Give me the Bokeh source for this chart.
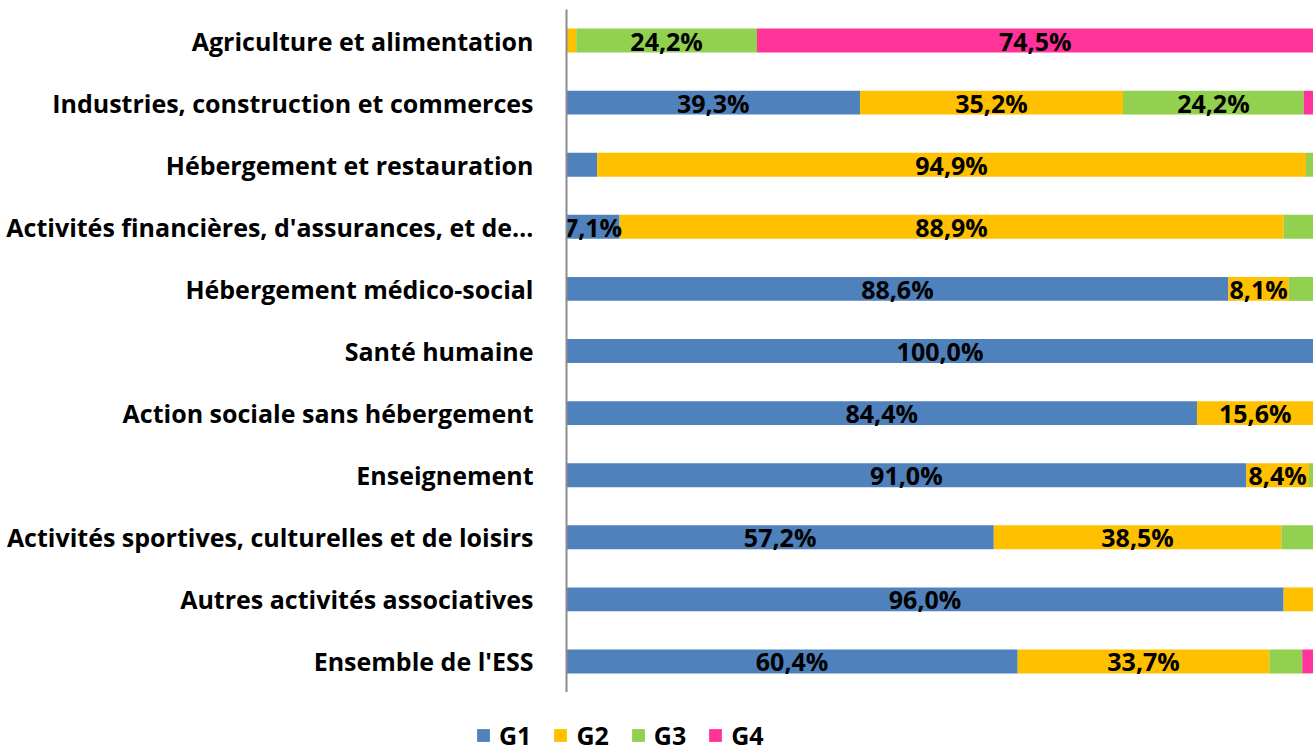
from bokeh.plotting import figure
from bokeh.models import ColumnDataSource, FactorRange, Range1d, Legend, LegendItem
from bokeh.layouts import column
from bokeh.core.properties import value
from bokeh.embed import file_html
from bokeh.resources import INLINE
import numpy as np

categories = [
    "Agriculture et alimentation",
    "Industries, construction et commerces",
    "Hébergement et restauration",
    "Activités financières, d'assurances, et de…",
    "Hébergement médico-social",
    "Santé humaine",
    "Action sociale sans hébergement",
    "Enseignement",
    "Activités sportives, culturelles et de loisirs",
    "Autres activités associatives",
    "Ensemble de l'ESS",
]
series = ["G1", "G2", "G3", "G4"]
g1 = [0.0, 39.3, 4.1, 7.1, 88.6, 100.0, 84.4, 91.0, 57.2, 96.0, 60.4]
g2 = [1.3, 35.2, 94.9, 88.9, 8.1, 0.0, 15.6, 8.4, 38.5, 4.0, 33.7]
g3 = [24.2, 24.2, 1.0, 4.0, 3.3, 0.0, 0.0, 0.6, 4.3, 0.0, 4.4]
g4 = [74.5, 1.3, 0.0, 0.0, 0.0, 0.0, 0.0, 0.0, 0.0, 0.0, 1.5]
colors = ["#4F81BD", "#FFC000", "#92D050", "#FF3399"]

FONT = "Open Sans"

source = ColumnDataSource(dict(cat=categories, G1=g1, G2=g2, G3=g3, G4=g4))

p = figure(frame_width=747, frame_height=683, output_backend="svg", toolbar_location=None,
           y_range=FactorRange(factors=list(reversed(categories)), range_padding=0),
           x_range=Range1d(0, 100), x_axis_location=None,
           min_border_left=566, min_border_right=0,
           min_border_top=9, min_border_bottom=0)

renderers = p.hbar_stack(series, y="cat", height=0.385, color=colors, line_color=None,
                         source=source)

# data labels
vals = np.array([g1, g2, g3, g4])
cum = np.cumsum(vals, axis=0)
lx, ly, lt = [], [], []
for si in range(4):
    for ci, c in enumerate(categories):
        v = vals[si, ci]
        if v >= 5:
            mid = cum[si, ci] - v / 2
            lx.append(mid)
            ly.append(c)
            lt.append(("%.1f%%" % v).replace(".", ","))
lsrc = ColumnDataSource(dict(x=lx, y=ly, t=lt))
p.text(x="x", y="y", text="t", source=lsrc, text_align="center", text_baseline="middle",
       text_font=value(FONT), text_font_style="bold", text_font_size="25px", text_color="black")

p.xgrid.visible = False
p.ygrid.visible = False
p.outline_line_color = None
yax = p.yaxis[0]
yax.major_tick_line_color = None
yax.minor_tick_line_color = None
yax.axis_line_color = "#8C8C8C"
yax.axis_line_width = 2
yax.major_label_standoff = 27
yax.major_label_text_font = FONT
yax.major_label_text_font_style = "bold"
yax.major_label_text_font_size = "25px"
yax.major_label_text_color = "black"

# legend strip below the chart
lf = figure(frame_width=1313, frame_height=55, output_backend="svg", toolbar_location=None,
            x_range=Range1d(0, 1), y_range=Range1d(0, 1),
            x_axis_location=None, y_axis_location=None,
            min_border_left=0, min_border_right=0, min_border_top=0, min_border_bottom=0)
lf.xgrid.visible = False
lf.ygrid.visible = False
lf.outline_line_color = None
swatches = []
for s, c in zip(series, colors):
    r = lf.hbar(y=0, right=s, height=0.5, color=c, line_color=None, source=source)
    r.visible = False
    swatches.append(r)

legend = Legend(items=[LegendItem(label=s, renderers=[r]) for s, r in zip(series, swatches)],
                orientation="horizontal", location=(475, -5),
                label_text_font=FONT, label_text_font_style="bold", label_text_font_size="25px",
                label_text_color="black",
                glyph_width=16, glyph_height=16, label_standoff=8, spacing=21,
                border_line_color=None, background_fill_alpha=0, padding=0, margin=0,
                inactive_fill_alpha=0, label_height=16)
lf.add_layout(legend, "center")

open("out.html", "w").write(file_html(column(p, lf, spacing=0), INLINE))
